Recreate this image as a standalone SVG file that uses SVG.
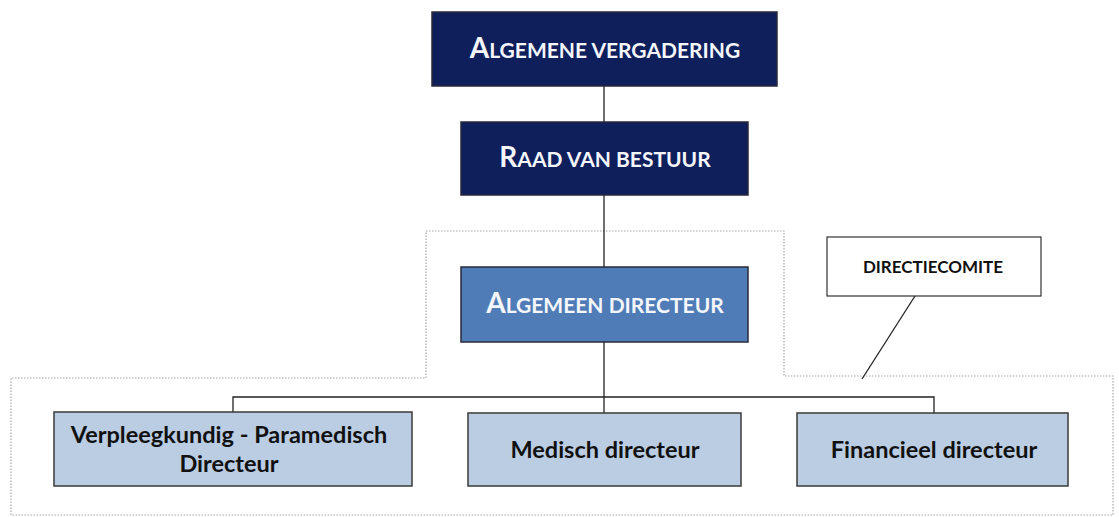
<svg xmlns="http://www.w3.org/2000/svg" width="1119" height="517" viewBox="0 0 1119 517">
<style>
.dark{fill:#0e1f5c;stroke:#2a2a3a;stroke-width:1.5}
.mid{fill:#4f7cb7;stroke:#2a2a3a;stroke-width:1.5}
.light{fill:#bacde3;stroke:#3a3a3a;stroke-width:1.5}
.note{fill:#ffffff;stroke:#333;stroke-width:1.2}
.wt{font-family:Lato,"Open Sans",sans-serif;font-weight:bold;fill:#f4f6fb;text-anchor:middle}
.bt{font-family:Lato,"Open Sans",sans-serif;font-weight:bold;fill:#111;text-anchor:middle}
.big{font-size:28px}
.sc{font-size:21px}
.lbl{font-size:23.5px}
.conn{stroke:#222;stroke-width:1.3;fill:none}
.dot{stroke:#a8a8a8;stroke-width:1.2;stroke-dasharray:1.5 1.5;fill:none}
</style>
<rect width="1119" height="517" fill="#ffffff"/>
<path class="dot" d="M426,231 H784 V376 H1113 V515 H11 V378 H426 Z"/>
<g id="connectors">
<line class="conn" x1="604" y1="86" x2="604" y2="122"/>
<line class="conn" x1="604" y1="195" x2="604" y2="267"/>
<line class="conn" x1="604" y1="342" x2="604" y2="413"/>
<path class="conn" d="M233,413 V397 H934 V413"/>
<line class="conn" x1="915" y1="296" x2="862" y2="379"/>
</g>
<g id="algemene-vergadering">
<rect class="dark" x="432" y="12" width="345" height="74"/>
<text class="wt" x="605" y="58"><tspan class="big">A</tspan><tspan class="sc">LGEMENE VERGADERING</tspan></text>
</g>
<g id="raad-van-bestuur">
<rect class="dark" x="461" y="122" width="287" height="73"/>
<text class="wt" x="605" y="167"><tspan class="big">R</tspan><tspan class="sc">AAD VAN BESTUUR</tspan></text>
</g>
<g id="algemeen-directeur">
<rect class="mid" x="461" y="267" width="287" height="75"/>
<text class="wt" x="605" y="313"><tspan class="big">A</tspan><tspan class="sc">LGEMEEN DIRECTEUR</tspan></text>
</g>
<g id="directiecomite">
<rect class="note" x="827" y="237" width="214" height="59"/>
<text class="bt" x="933" y="273" font-size="17">DIRECTIECOMITE</text>
</g>
<g id="verpleegkundig">
<rect class="light" x="54" y="412" width="358" height="74"/>
<text class="bt lbl" x="229" y="443">Verpleegkundig - Paramedisch</text>
<text class="bt lbl" x="229" y="472">Directeur</text>
</g>
<g id="medisch">
<rect class="light" x="468" y="413" width="273" height="73"/>
<text class="bt lbl" x="605" y="458">Medisch directeur</text>
</g>
<g id="financieel">
<rect class="light" x="797" y="413" width="271" height="73"/>
<text class="bt lbl" x="934" y="458">Financieel directeur</text>
</g>
</svg>
